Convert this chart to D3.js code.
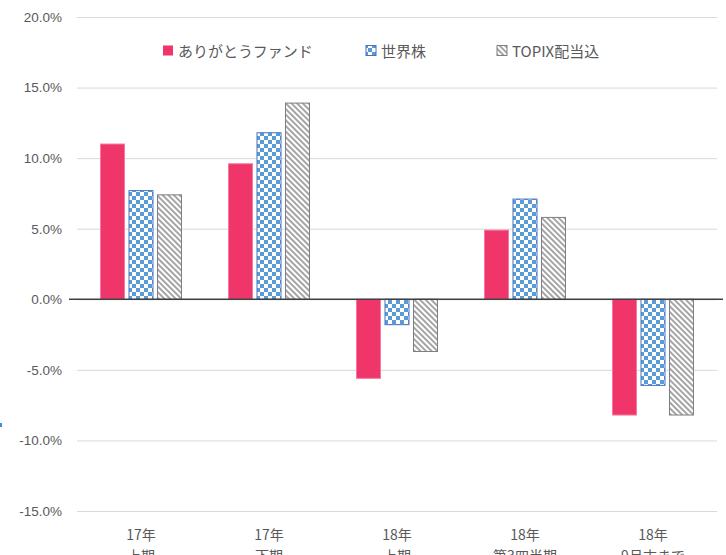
<!DOCTYPE html>
<html>
<head>
<meta charset="utf-8">
<script src="https://cdn.jsdelivr.net/npm/d3@7"></script>
<style>
  body { margin: 0; background: #fff; }
  svg { display: block; }
</style>
</head>
<body>
<div class="chart"></div>
<script>
// data
const categories = ["17年|上期", "17年|下期", "18年|上期", "18年|第3四半期", "18年|9月末まで"];
const seriesNames = ["ありがとうファンド", "世界株", "TOPIX配当込"];
const fundValues = [11.0, 9.6, -5.6, 4.9, -8.2];
const worldValues = [7.7, 11.8, -1.8, 7.1, -6.1];
const topixValues = [7.4, 13.9, -3.7, 5.8, -8.2];
const yTicks = [20, 15, 10, 5, 0, -5, -10, -15];

const width = 726, height = 555;
const textColor = "#595959";
const numFont = "'Liberation Sans', Arial, sans-serif";
const jpFont = "'Noto Sans CJK JP', 'Noto Sans', sans-serif";

const svg = d3.select(".chart").append("svg")
    .attr("width", width)
    .attr("height", height);

// #region patterns
const defs = svg.append("defs");
const checker = defs.append("pattern")
    .attr("id", "checker")
    .attr("patternUnits", "userSpaceOnUse")
    .attr("width", 8).attr("height", 8);
checker.append("rect").attr("width", 8).attr("height", 8).attr("fill", "#fff");
checker.append("rect").attr("width", 4).attr("height", 4).attr("fill", "#5b9bd5");
checker.append("rect").attr("x", 4).attr("y", 4).attr("width", 4).attr("height", 4).attr("fill", "#5b9bd5");

const diag = defs.append("pattern")
    .attr("id", "diag")
    .attr("patternUnits", "userSpaceOnUse")
    .attr("width", 4).attr("height", 4)
    .attr("patternTransform", "rotate(-45)");
diag.append("rect").attr("width", 4).attr("height", 4).attr("fill", "#fff");
diag.append("rect").attr("width", 2).attr("height", 4).attr("fill", "#a5a5a5");
// #endregion

const series = [
    { name: seriesNames[0], values: fundValues, fill: "#ef3569", stroke: "#f27a9c" },
    { name: seriesNames[1], values: worldValues, fill: "url(#checker)", stroke: "#4472c4" },
    { name: seriesNames[2], values: topixValues, fill: "url(#diag)", stroke: "#7f7f7f" }
];

// #region scales
const yScale = d3.scaleLinear().domain([-15, 20]).range([511, 17]);
const xScale = d3.scaleBand().domain(categories).range([77, 717]);
const xInner = d3.scaleBand().domain(seriesNames)
    .range([0, xScale.bandwidth()])
    .paddingInner(0.158)
    .paddingOuter(0.825);
// #endregion

// #region grid + y axis
const gYScale = svg.append("g")
    .attr("class", "yScale")
    .attr("transform", "translate(77,0)")
    .call(d3.axisLeft(yScale).tickValues(yTicks)
        .tickSize(-(717 - 77))
        .tickPadding(15)
        .tickFormat(d => d.toFixed(1) + "%"));
gYScale.select(".domain").remove();
gYScale.selectAll(".tick line").attr("stroke", "#d9d9d9").attr("stroke-width", 1);
gYScale.selectAll(".tick text")
    .attr("fill", textColor)
    .attr("font-family", numFont)
    .attr("font-size", 13.5);
// #endregion

// #region bars
const gBars = svg.append("g").attr("class", "gBars");
series.forEach(s => {
    gBars.selectAll(null)
        .data(s.values.map((v, i) => ({ cat: categories[i], v: v })))
        .enter()
        .append("rect")
        .attr("x", d => xScale(d.cat) + xInner(s.name))
        .attr("y", d => yScale(Math.max(0, d.v)))
        .attr("width", xInner.bandwidth())
        .attr("height", d => Math.abs(yScale(d.v) - yScale(0)))
        .attr("fill", s.fill)
        .attr("stroke", s.stroke)
        .attr("stroke-width", 1);
});
// #endregion

// zero line
svg.append("line")
    .attr("x1", 69).attr("x2", 723)
    .attr("y1", yScale(0)).attr("y2", yScale(0))
    .attr("stroke", "#404040")
    .attr("stroke-width", 1.5);

// #region category labels
const gXLabels = svg.append("g").attr("class", "xLabels");
gXLabels.selectAll("text")
    .data(categories)
    .enter()
    .append("text")
    .attr("x", d => xScale(d) + xScale.bandwidth() / 2)
    .attr("y", 540)
    .attr("text-anchor", "middle")
    .attr("fill", textColor)
    .attr("font-family", jpFont)
    .attr("font-size", 14)
    .each(function (d) {
        const parts = d.split("|");
        d3.select(this).append("tspan").text(parts[0]);
        d3.select(this).append("tspan")
            .attr("x", xScale(d) + xScale.bandwidth() / 2)
            .attr("dy", 21)
            .text(parts[1]);
    });
// #endregion

// #region legend
const legendX = [163, 366, 497];
const gLegend = svg.append("g").attr("class", "legend");
series.forEach((s, i) => {
    gLegend.append("rect")
        .attr("x", legendX[i]).attr("y", 45.5)
        .attr("width", 10).attr("height", 10)
        .attr("fill", s.fill)
        .attr("stroke", i === 0 ? "none" : s.stroke);
    gLegend.append("text")
        .attr("x", legendX[i] + 15)
        .attr("y", 57)
        .attr("fill", textColor)
        .attr("font-family", jpFont)
        .attr("font-size", 15)
        .text(s.name);
});
// #endregion

// small blue mark at the left edge
svg.append("rect")
    .attr("x", 0).attr("y", 423)
    .attr("width", 2).attr("height", 4)
    .attr("fill", "#3d8fdc");
</script>
</body>
</html>
